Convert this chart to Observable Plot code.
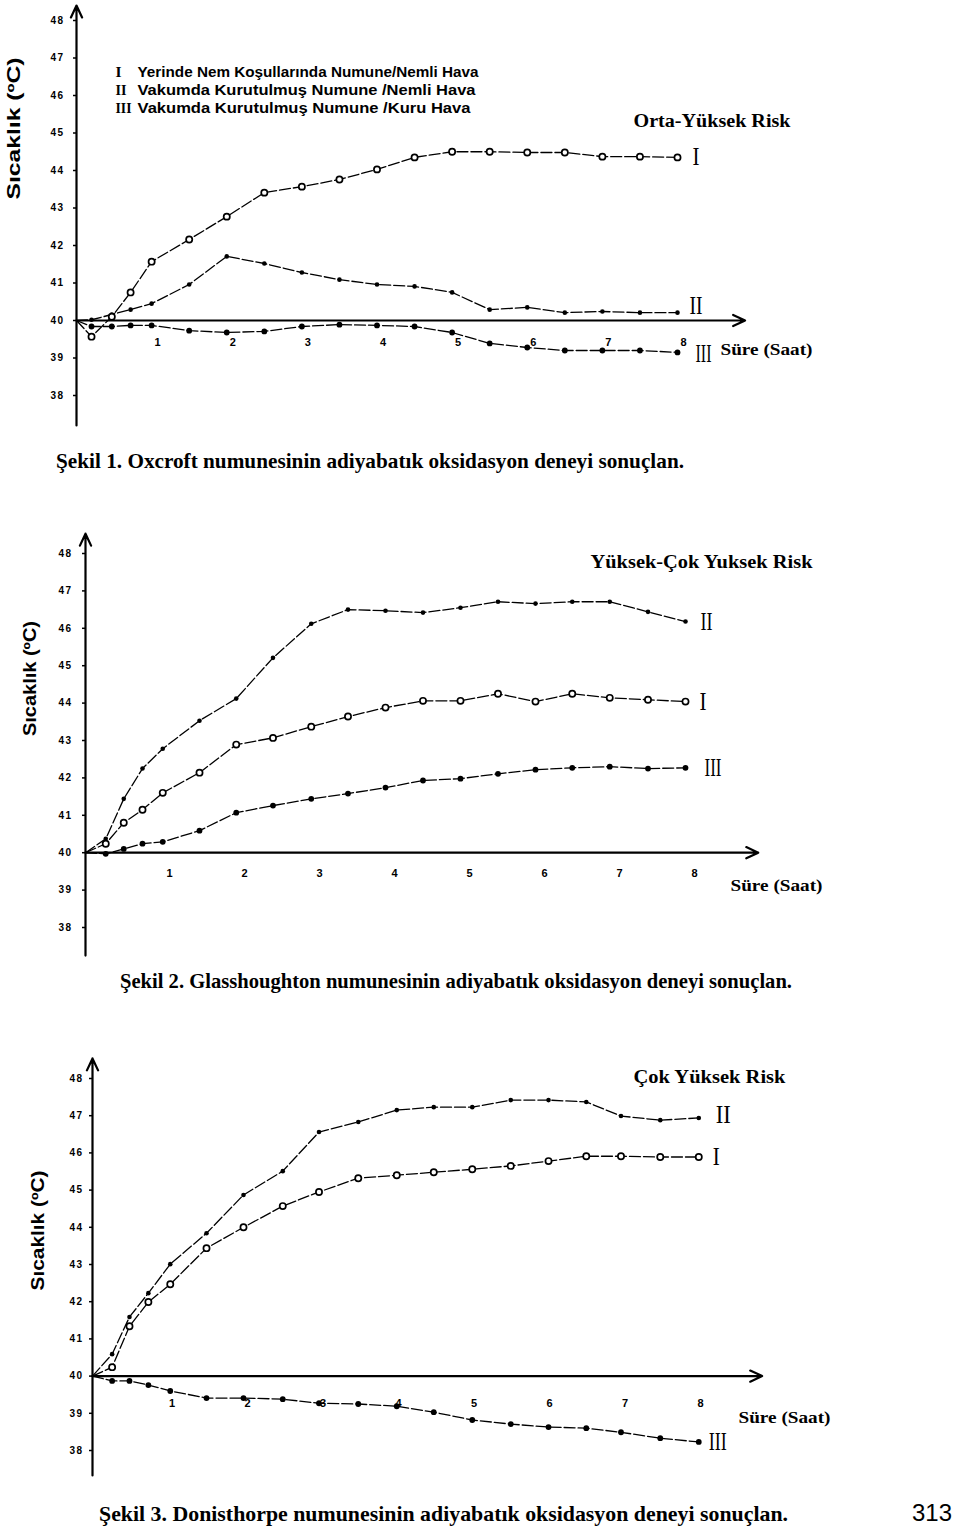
<!DOCTYPE html>
<html>
<head>
<meta charset="utf-8">
<script src="https://cdn.jsdelivr.net/npm/d3@7"></script>
<script src="https://cdn.jsdelivr.net/npm/@observablehq/plot@0.6"></script>
<style>
  html, body { margin: 0; padding: 0; background: #fff; }
  #page { position: relative; width: 960px; height: 1530px; overflow: hidden; background: #fff; color: #000; }
  .fig { position: absolute; left: 0; }
  .cap { position: absolute; white-space: nowrap; font-family: "Liberation Serif", "Times New Roman", serif; transform-origin: 0 50%; line-height: 1; color: #000; }
</style>
</head>
<body>
<div id="page"></div>
<script>
// ---------------- DATA ----------------
const seriesNames = ["I", "II", "III"];
const yTicks = [38, 39, 40, 41, 42, 43, 44, 45, 46, 47, 48];
const xTickLabels = [1, 2, 3, 4, 5, 6, 7, 8];

// Şekil 1 – Oxcroft
const hours1 = [0, 0.2, 0.47, 0.72, 1, 1.5, 2, 2.5, 3, 3.5, 4, 4.5, 5, 5.5, 6, 6.5, 7, 7.5, 8];
const fig1_I   = [40, 39.57, 40.1, 40.75, 41.57, 42.16, 42.77, 43.41, 43.57, 43.76, 44.03, 44.35, 44.5, 44.5, 44.48, 44.48, 44.37, 44.37, 44.35];
const fig1_II  = [40, 40.02, 40.16, 40.29, 40.45, 40.96, 41.71, 41.52, 41.28, 41.09, 40.96, 40.91, 40.75, 40.29, 40.35, 40.21, 40.24, 40.21, 40.21];
const fig1_III = [40, 39.84, 39.84, 39.87, 39.87, 39.73, 39.68, 39.71, 39.84, 39.89, 39.87, 39.84, 39.68, 39.39, 39.28, 39.2, 39.2, 39.2, 39.15];

// Şekil 2 – Glasshoughton
const hours2 = [0, 0.27, 0.51, 0.76, 1.03, 1.52, 2.01, 2.5, 3.01, 3.5, 4, 4.5, 5, 5.5, 6, 6.49, 6.99, 7.5, 8];
const fig2_I   = [40, 40.24, 40.8, 41.15, 41.6, 42.14, 42.89, 43.07, 43.37, 43.64, 43.88, 44.06, 44.06, 44.25, 44.04, 44.25, 44.14, 44.09, 44.04];
const fig2_II  = [40, 40.37, 41.44, 42.25, 42.78, 43.53, 44.12, 45.21, 46.12, 46.5, 46.47, 46.42, 46.55, 46.71, 46.66, 46.71, 46.71, 46.44, 46.18];
const fig2_III = [40, 39.97, 40.1, 40.24, 40.29, 40.59, 41.07, 41.26, 41.44, 41.58, 41.74, 41.93, 41.98, 42.11, 42.22, 42.27, 42.3, 42.25, 42.27];

// Şekil 3 – Donisthorpe
const hours3 = [0, 0.26, 0.49, 0.74, 1.03, 1.51, 2, 2.52, 3, 3.52, 4.03, 4.52, 5.03, 5.54, 6.04, 6.54, 7, 7.52, 8.03];
const fig3_I   = [40, 40.24, 41.34, 41.99, 42.47, 43.44, 44.0, 44.57, 44.95, 45.32, 45.4, 45.48, 45.56, 45.65, 45.78, 45.91, 45.91, 45.89, 45.89];
const fig3_II  = [40, 40.59, 41.59, 42.23, 43.01, 43.84, 44.87, 45.51, 46.56, 46.83, 47.15, 47.23, 47.23, 47.42, 47.42, 47.37, 46.99, 46.88, 46.94];
const fig3_III = [40, 39.87, 39.87, 39.76, 39.6, 39.41, 39.41, 39.38, 39.27, 39.25, 39.19, 39.03, 38.82, 38.71, 38.63, 38.6, 38.49, 38.33, 38.23];

// Texts
const yAxisTitle = "Sıcaklık (ºC)";
const xAxisTitle = "Süre (Saat)";
const legendNumerals = ["I", "II", "III"];
const legendTexts = ["Yerinde Nem Koşullarında Numune/Nemli Hava", "Vakumda Kurutulmuş Numune /Nemli Hava", "Vakumda Kurutulmuş Numune /Kuru Hava"];
const riskLabels = ["Orta-Yüksek Risk", "Yüksek-Çok Yuksek Risk", "Çok Yüksek Risk"];
const captions = [
  "Şekil  1. Oxcroft numunesinin adiyabatık oksidasyon deneyi sonuçlan.",
  "Şekil 2. Glasshoughton numunesinin adiyabatık oksidasyon deneyi sonuçlan.",
  "Şekil 3. Donisthorpe numunesinin adiyabatık oksidasyon deneyi sonuçlan."
];
const pageNumber = "313";

// ---------------- LAYOUT (positions / styles only) ----------------
const layouts = [
  { top: 0, height: 432, x0: 76, x8: 677, y38: 395, y48: 20, yExt: [37.2, 48.4], xEnd: 8.9,
    tickPad: 9, tickDy: 22, tickDx: 6,
    yTitle: { x: 14, y: 128, w: 142 },
    risk: { x: 633, y: 121, w: 157 },
    sure: { x: 720, y: 349, w: 92 },
    legend: { x: 115, x2: 137, ys: [72, 90, 108], ws: [341, 338, 333] },
    nums: { I: [15, 0, 7], II: [12, -7, 13], III: [18, 2, 16] },
    hours: hours1, vals: [fig1_I, fig1_II, fig1_III] },
  { top: 515, height: 445, x0: 85, x8: 685, y38: 412, y48: 38, yExt: [37.25, 48.53], xEnd: 8.97,
    tickPad: 10, tickDy: 21, tickDx: 9,
    yTitle: { x: 30, y: 163, w: 115 },
    risk: { x: 590, y: 47, w: 222 },
    sure: { x: 730, y: 370, w: 92 },
    legend: null,
    nums: { I: [14, 0, 7], II: [15, 0, 12], III: [19, 0, 17] },
    hours: hours2, vals: [fig2_I, fig2_II, fig2_III] },
  { top: 1050, height: 430, x0: 92, x8: 696, y38: 400, y48: 28, yExt: [37.33, 48.54], xEnd: 8.87,
    tickPad: 6, tickDy: 27, tickDx: 4,
    yTitle: { x: 38, y: 180, w: 120 },
    risk: { x: 633, y: 27, w: 152 },
    sure: { x: 738, y: 367, w: 92 },
    legend: null,
    nums: { I: [14, 0, 7], II: [17, -3, 15], III: [10, 0, 18] },
    hours: hours3, vals: [fig3_I, fig3_II, fig3_III] }
];
const captionLayout = [
  { x: 56, y: 461, w: 628, size: 21 },
  { x: 120, y: 981, w: 672, size: 21 },
  { x: 99, y: 1514, w: 689, size: 21 }
];
const pageNumLayout = { x: 912, y: 1513, w: 40, size: 24 };

const SANS = "Liberation Sans, Arial, sans-serif";
const SERIF = "Liberation Serif, Times New Roman, serif";

function buildFigure(k) {
  const L = layouts[k];
  const fits = new Map();                    // text|fontSize -> target width
  const reg = (txt, size, w) => fits.set(txt + "|" + size, w);

  const note = (txt, pos, opts) => {
    reg(txt, opts.fontSize, pos.w);
    return Plot.text([txt], {
      text: d => d, frameAnchor: "top-left",
      dx: pos.x - L.x0, dy: pos.y,
      textAnchor: "start", lineAnchor: "middle", fill: "black",
      ...opts
    });
  };

  const rows = [];
  seriesNames.forEach((s, j) => L.vals[j].forEach((v, i) => rows.push({ series: s, t: L.hours[i], v })));
  const ends = seriesNames.map((s, j) => ({ series: s, t: L.hours[L.hours.length - 1], v: L.vals[j][L.vals[j].length - 1] }));
  const pts = rows.filter(d => d.t > 0);

  const marks = [
    Plot.arrow([{ a: 0, b1: L.yExt[0], b2: L.yExt[1] }], { x1: "a", x2: "a", y1: "b1", y2: "b2", stroke: "black", strokeWidth: 2.2, headLength: 9, headAngle: 50 }),
    Plot.arrow([{ a: 0, b: L.xEnd, y: 40 }], { x1: "a", x2: "b", y1: "y", y2: "y", stroke: "black", strokeWidth: 2.2, headLength: 9, headAngle: 50 }),
    Plot.axisY(yTicks, { tickSize: 3, tickPadding: L.tickPad, label: null, fontSize: 10, fontWeight: "bold", fontFamily: SANS, tickFormat: d => d, strokeWidth: 1.5 }),
    Plot.line(rows, { x: "t", y: "v", z: "series", stroke: "black", strokeWidth: 1.3, strokeDasharray: "11,3" }),
    Plot.dot(pts.filter(d => d.series === "II"), { x: "t", y: "v", r: 2.3, fill: "black", stroke: "none" }),
    Plot.dot(pts.filter(d => d.series === "III"), { x: "t", y: "v", r: 2.9, fill: "black", stroke: "none" }),
    Plot.dot(pts.filter(d => d.series === "I"), { x: "t", y: "v", r: 3.1, fill: "white", stroke: "black", strokeWidth: 1.7 }),
    Plot.text(xTickLabels, { x: d => d, y: () => 40, text: d => String(d), dx: L.tickDx, dy: L.tickDy, fontSize: 11, fontWeight: "bold", fontFamily: SANS, fill: "black" }),
    ...seriesNames.map(s => {
      reg(s, 25, L.nums[s][2]);
      return Plot.text(ends.filter(d => d.series === s), {
        x: "t", y: "v", text: "series", dx: L.nums[s][0], dy: L.nums[s][1],
        textAnchor: "start", fontSize: 25, fontFamily: SERIF, fill: "black"
      });
    }),
    note(yAxisTitle, L.yTitle, { rotate: -90, textAnchor: "middle", fontSize: 18, fontWeight: "bold", fontFamily: SANS }),
    note(riskLabels[k], L.risk, { fontSize: 18, fontWeight: "bold", fontFamily: SERIF }),
    note(xAxisTitle, L.sure, { fontSize: 17, fontWeight: "bold", fontFamily: SERIF })
  ];
  if (L.legend) {
    legendNumerals.forEach((n, i) => {
      marks.push(note(n, { x: L.legend.x, y: L.legend.ys[i], w: 5 * n.length + 1 }, { fontSize: 14, fontWeight: "bold", fontFamily: SERIF }));
      marks.push(note(legendTexts[i], { x: L.legend.x2, y: L.legend.ys[i], w: L.legend.ws[i] }, { fontSize: 14.5, fontWeight: "bold", fontFamily: SANS }));
    });
  }

  const svg = Plot.plot({
    width: 960, height: L.height,
    marginLeft: L.x0, marginRight: 0, marginTop: 0, marginBottom: 0,
    x: { domain: [0, 8], range: [L.x0, L.x8], axis: null },
    y: { domain: [38, 48], range: [L.y38, L.y48], axis: null },
    style: { background: "white", color: "black", overflow: "visible" },
    marks
  });
  svg.querySelectorAll("text").forEach(t => {
    let el = t, size = null;
    while (el && el !== svg) { if (el.getAttribute && el.getAttribute("font-size")) { size = parseFloat(el.getAttribute("font-size")); break; } el = el.parentNode; }
    const key = t.textContent + "|" + size;
    if (fits.has(key)) {
      t.setAttribute("textLength", fits.get(key));
      t.setAttribute("lengthAdjust", "spacingAndGlyphs");
    }
  });
  svg.querySelectorAll('g[aria-label="y-axis tick label"] text').forEach(t => t.setAttribute("letter-spacing", "1.5"));
  svg.classList.add("fig");
  svg.style.top = L.top + "px";
  return svg;
}

const page = document.getElementById("page");
layouts.forEach((_, k) => page.appendChild(buildFigure(k)));

function addText(txt, c, family, weight) {
  const d = document.createElement("div");
  d.className = "cap";
  d.textContent = txt;
  d.style.fontSize = c.size + "px";
  if (family) d.style.fontFamily = family;
  if (weight) d.style.fontWeight = weight;
  page.appendChild(d);
  const r = d.getBoundingClientRect();
  d.style.left = c.x + "px";
  d.style.top = (c.y - r.height / 2) + "px";
  d.style.transform = `scaleX(${c.w / r.width})`;
}
captions.forEach((t, i) => addText(t, captionLayout[i], null, "bold"));
addText(pageNumber, pageNumLayout, "Liberation Sans, Arial, sans-serif", "normal");
</script>
</body>
</html>
